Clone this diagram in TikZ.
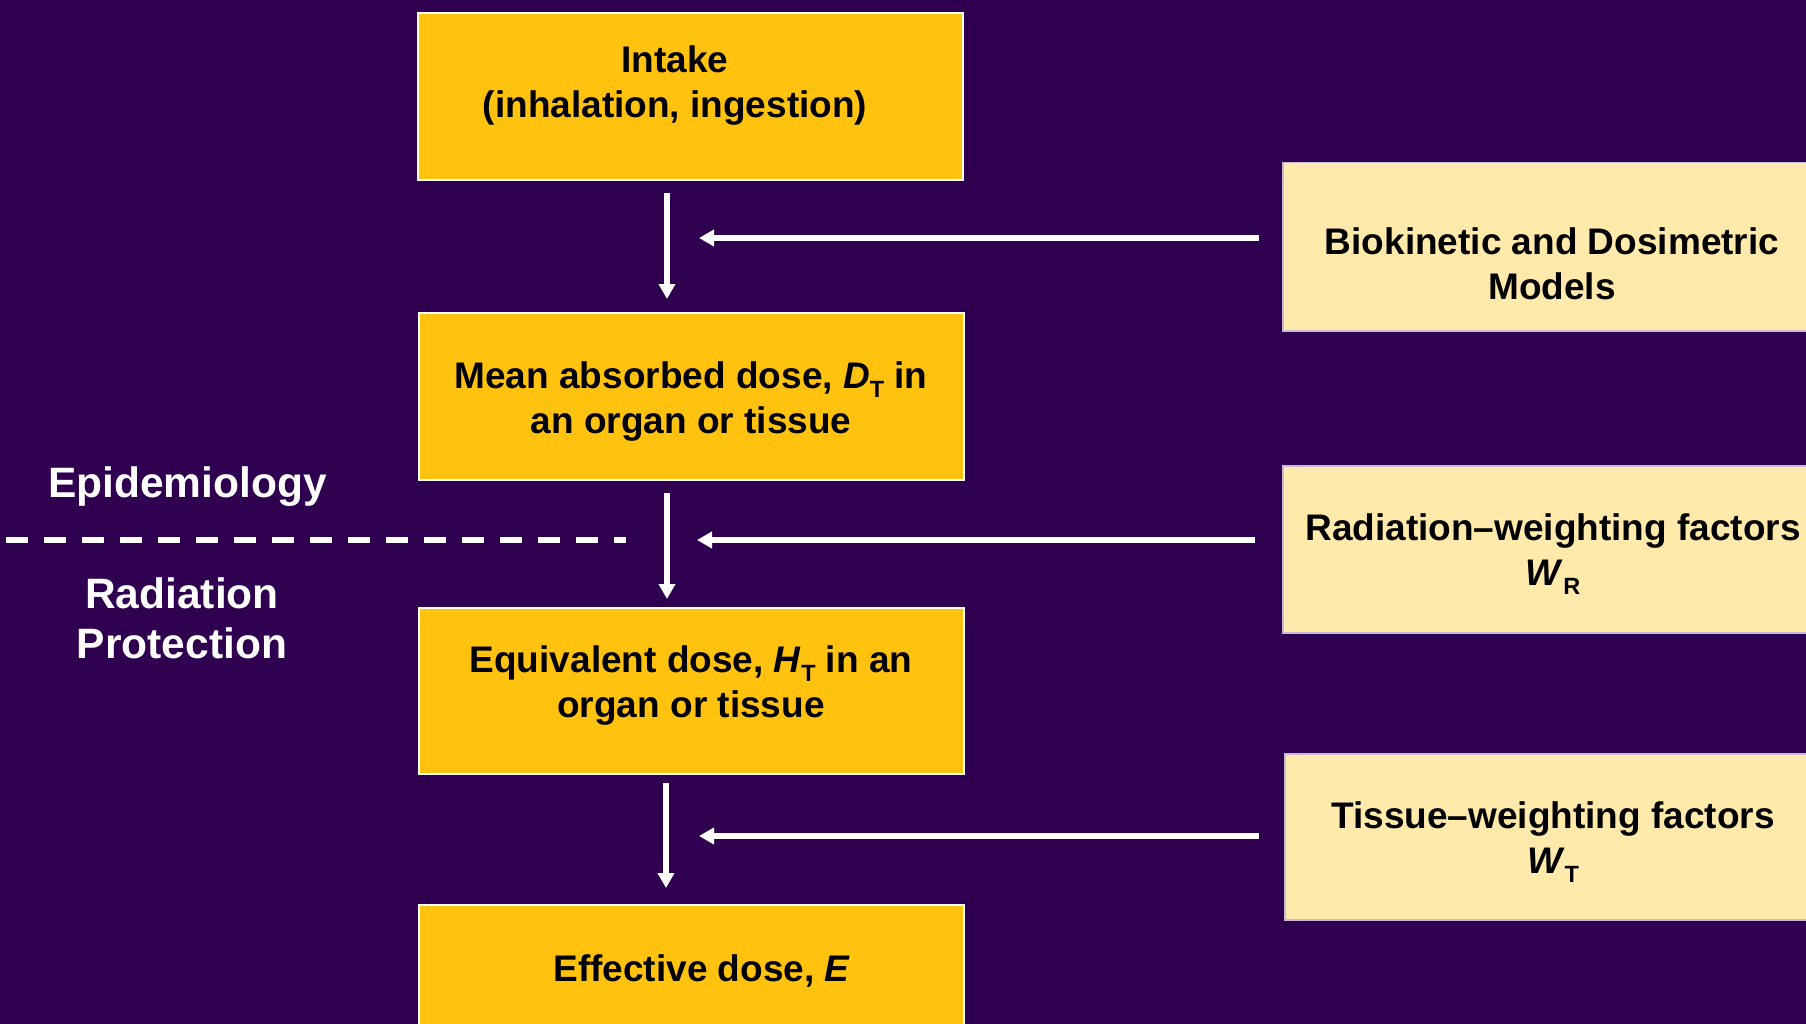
\documentclass[tikz,border=0pt]{standalone}
\usepackage{fontspec}
\setmainfont{Liberation Sans}
\usetikzlibrary{arrows.meta}
\definecolor{bgpurple}{RGB}{47,0,80}
\definecolor{boxyellow}{RGB}{255,194,14}
\definecolor{boxlight}{RGB}{255,233,171}
\definecolor{lightedge}{RGB}{200,185,215}
\newcommand\subsc[1]{\raisebox{-9pt}{\fontsize{23.5}{23.5}\selectfont #1}}
\begin{document}
\begin{tikzpicture}[x=1pt,y=-1pt,
  mainbox/.style={draw=white, line width=2pt, fill=boxyellow, anchor=north west, inner sep=0pt},
  sidebox/.style={draw=lightedge, line width=1.5pt, fill=boxlight, anchor=north west, inner sep=0pt},
  boxtext/.style={align=center, font=\fontsize{37}{45}\selectfont\bfseries, text=black, inner sep=0pt},
  sidelabel/.style={align=center, font=\fontsize{42.5}{50}\selectfont\bfseries, text=white, inner sep=0pt},
  arr/.style={draw=white, line width=5.5pt, -{Triangle[width=16pt,length=15pt]}},
  divider/.style={draw=white, line width=6pt, dash pattern=on 22pt off 16pt}]
\useasboundingbox (0,0) rectangle (1806,1024);
\clip (0,0) rectangle (1806,1024);
\fill[bgpurple] (0,0) rectangle (1806,1024);

% main column boxes
\node[mainbox, minimum width=545pt, minimum height=167pt] (intake) at (417,12) {};
\node[mainbox, minimum width=545pt, minimum height=167pt] (mean) at (418,312) {};
\node[mainbox, minimum width=545pt, minimum height=166pt] (equiv) at (418,607) {};
\node[mainbox, minimum width=545pt, minimum height=140pt] (eff) at (418,904) {};

\node[boxtext] (intakeT) at (675,86) {Intake\\(inhalation, ingestion)};
\node[boxtext] (meanT) at (691,402) {Mean absorbed dose, \textit{D}\subsc{T} in\\an organ or tissue};
\node[boxtext] (equivT) at (691,686) {Equivalent dose, \textit{H}\subsc{T} in an\\organ or tissue};
\node[boxtext] (effT) at (702,971) {Effective dose, \textit{E}};

% side boxes
\node[sidebox, minimum width=560pt, minimum height=168pt] (bio) at (1282,162) {};
\node[sidebox, minimum width=560pt, minimum height=167pt] (radw) at (1282,465) {};
\node[sidebox, minimum width=560pt, minimum height=166pt] (tisw) at (1284,753) {};

\node[boxtext] (bioT) at (1552,264) {Biokinetic and Dosimetric\\Models};
\node[boxtext] (radwT) at (1553,554) {Radiation–weighting factors\\\textit{W}\subsc{R}};
\node[boxtext] (tiswT) at (1553,842) {Tissue–weighting factors\\\textit{W}\subsc{T}};

% side labels
\node[sidelabel] (epi) at (187.5,487) {Epidemiology};
\node[sidelabel] (radprot) at (182,618) {Radiation\\Protection};

% divider
\coordinate (d1) at (6,540);
\coordinate (d2) at (626,540);
\draw[divider] (d1) -- (d2);

% vertical arrows
\coordinate (v1s) at (667,193);
\coordinate (v1e) at (667,299);
\coordinate (v2s) at (667,493);
\coordinate (v2e) at (667,599);
\coordinate (v3s) at (666,783);
\coordinate (v3e) at (666,888);
\draw[arr] (v1s) -- (v1e);
\draw[arr] (v2s) -- (v2e);
\draw[arr] (v3s) -- (v3e);

% horizontal arrows
\coordinate (h1s) at (1259,238);
\coordinate (h1e) at (699,238);
\coordinate (h2s) at (1255,540);
\coordinate (h2e) at (697,540);
\coordinate (h3s) at (1259,836);
\coordinate (h3e) at (699,836);
\draw[arr] (h1s) -- (h1e);
\draw[arr] (h2s) -- (h2e);
\draw[arr] (h3s) -- (h3e);
\end{tikzpicture}
\end{document}
